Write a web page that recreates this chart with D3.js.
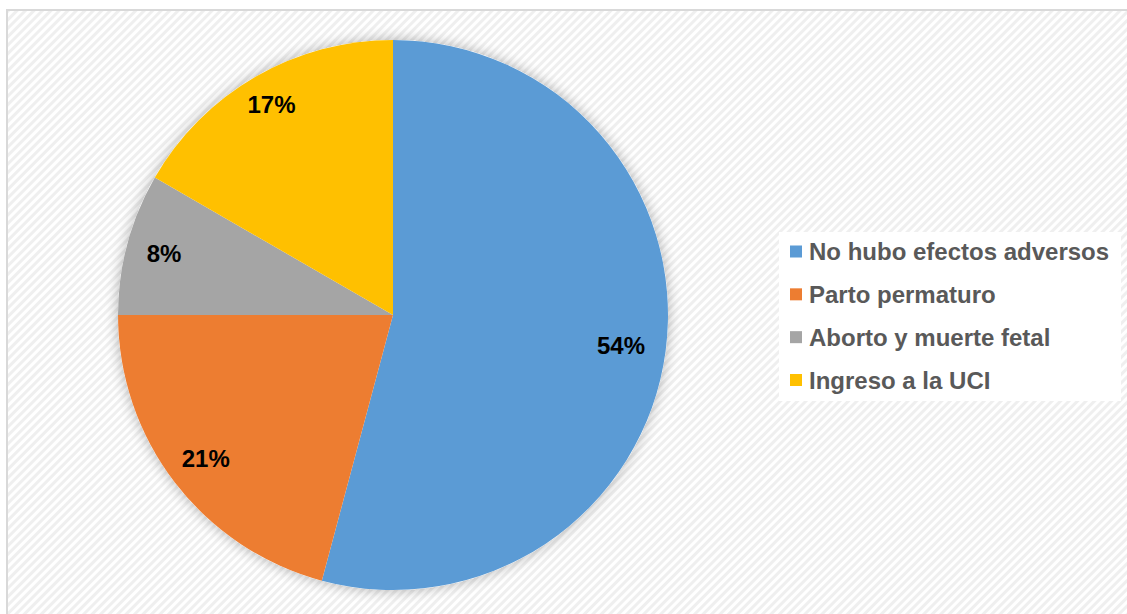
<!DOCTYPE html>
<html>
<head>
<meta charset="utf-8">
<script src="https://cdn.jsdelivr.net/npm/d3@7"></script>
<style>
  html, body { margin: 0; padding: 0; background: #ffffff; }
  svg { display: block; }
</style>
</head>
<body>
<svg id="chart" width="1127" height="614"></svg>
<script>
// Resultados adversos (conteo de casos)
const categories = ["No hubo efectos adversos", "Parto permaturo", "Aborto y muerte fetal", "Ingreso a la UCI"];
const counts = [13, 5, 2, 4];
const percentLabels = ["54%", "21%", "8%", "17%"];
const colors = ["#5b9bd5", "#ed7d31", "#a5a5a5", "#ffc000"];

const svg = d3.select("#chart");
const W = 1127, H = 614;

// Diagonal hatch background
const defs = svg.append("defs");
const pat = defs.append("pattern")
  .attr("id", "hatch")
  .attr("patternUnits", "userSpaceOnUse")
  .attr("width", 6).attr("height", 6)
  .attr("patternTransform", "rotate(45)");
pat.append("rect").attr("width", 6).attr("height", 6).attr("fill", "#ffffff");
pat.append("rect").attr("x", 0).attr("width", 3).attr("height", 6).attr("fill", "#efefef");

const shadow = defs.append("filter")
  .attr("id", "glow")
  .attr("x", "-20%").attr("y", "-20%").attr("width", "140%").attr("height", "140%");
shadow.append("feGaussianBlur").attr("in", "SourceAlpha").attr("stdDeviation", 7).attr("result", "b");
shadow.append("feComponentTransfer").attr("in", "b").attr("result", "s")
  .append("feFuncA").attr("type", "linear").attr("slope", 0.3);
const merge = shadow.append("feMerge");
merge.append("feMergeNode").attr("in", "s");
merge.append("feMergeNode").attr("in", "SourceGraphic");

svg.append("rect").attr("x", 0).attr("y", 0).attr("width", W).attr("height", H).attr("fill", "#ffffff");
svg.append("rect")
  .attr("x", 7).attr("y", 10).attr("width", W + 10).attr("height", H + 10)
  .attr("fill", "url(#hatch)")
  .attr("stroke", "#d9d9d9").attr("stroke-width", 2);

// Pie
const cx = 393, cy = 315, R = 275;
const pie = d3.pie().sort(null).value(d => d)(counts);
const arc = d3.arc().innerRadius(0).outerRadius(R);

const g = svg.append("g").attr("transform", `translate(${cx},${cy})`);

g.append("circle").attr("r", R).attr("fill", "#ffffff").attr("filter", "url(#glow)");

g.selectAll("path.slice")
  .data(pie)
  .join("path")
  .attr("class", "slice")
  .attr("d", arc)
  .attr("fill", (d, i) => colors[i]);

const labelR = [230, 236, 237, 243];
g.selectAll("text.pct")
  .data(pie)
  .join("text")
  .attr("class", "pct")
  .attr("transform", (d, i) => {
    const a = (d.startAngle + d.endAngle) / 2;
    return `translate(${Math.sin(a) * labelR[i]},${-Math.cos(a) * labelR[i]})`;
  })
  .attr("text-anchor", "middle")
  .attr("dy", "0.36em")
  .attr("font-family", "Liberation Sans, Arial, sans-serif")
  .attr("font-weight", "bold")
  .attr("font-size", 24)
  .attr("fill", "#000000")
  .text((d, i) => percentLabels[i]);

// Legend
const legend = svg.append("g");
legend.append("rect")
  .attr("x", 779).attr("y", 232).attr("width", 342).attr("height", 169)
  .attr("fill", "#ffffff");

const rowY = d3.scalePoint().domain(categories).range([251.5, 380]);
const items = legend.selectAll("g.item")
  .data(categories)
  .join("g")
  .attr("class", "item")
  .attr("transform", d => `translate(790,${rowY(d)})`);
items.append("rect")
  .attr("x", 0).attr("y", -6).attr("width", 12).attr("height", 12)
  .attr("fill", (d, i) => colors[i]);
items.append("text")
  .attr("x", 19).attr("dy", "0.36em")
  .attr("font-family", "Liberation Sans, Arial, sans-serif")
  .attr("font-weight", "bold")
  .attr("font-size", 24)
  .attr("fill", "#595959")
  .text(d => d);
</script>
</body>
</html>
